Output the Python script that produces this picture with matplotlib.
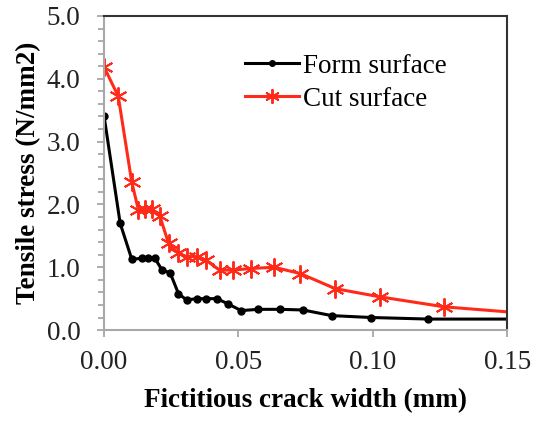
import numpy as np
import matplotlib.pyplot as plt
from matplotlib.ticker import MultipleLocator, FormatStrFormatter

plt.rcParams['font.family'] = ['Liberation Serif', 'DejaVu Serif']

# crack width (mm) and tensile stress (N/mm2)
form_w = [0.0, 0.006, 0.0103, 0.014, 0.0165, 0.019, 0.0215, 0.0246, 0.0277, 0.0307,
          0.0345, 0.038, 0.042, 0.046, 0.051, 0.0574, 0.0655, 0.074, 0.0847, 0.0994,
          0.1207, 0.15]
form_s = [3.41, 1.70, 1.13, 1.14, 1.14, 1.14, 0.96, 0.91, 0.58, 0.48,
          0.50, 0.50, 0.50, 0.42, 0.31, 0.33, 0.33, 0.32, 0.23, 0.20,
          0.175, 0.175]

cut_w = [0.0, 0.0053, 0.0103, 0.0128, 0.0153, 0.0177, 0.0208, 0.024, 0.0277, 0.0307,
         0.0345, 0.038, 0.043, 0.048, 0.0545, 0.0633, 0.073, 0.086, 0.1025, 0.1265,
         0.15]
cut_s = [4.19, 3.72, 2.36, 1.91, 1.92, 1.92, 1.81, 1.38, 1.22, 1.17,
         1.17, 1.11, 0.955, 0.955, 0.98, 1.0, 0.90, 0.66, 0.53, 0.37,
         0.29]

fs = 19.5

fig = plt.figure(figsize=(5.39, 4.21), dpi=100)
ax = fig.add_axes([0.193, 0.216, 0.748, 0.746])

ax.plot(form_w, form_s, color='black', lw=2.2, marker='o', ms=5,
        markevery=list(range(len(form_w) - 1)), label='Form surface')
ax.plot(cut_w, cut_s, color='#ff2a1a', lw=2.2, marker=(6, 2, 0), ms=13, mew=1.4,
        markevery=list(range(len(cut_w) - 1)), label='Cut surface')

ax.set_xlim(0, 0.15)
ax.set_ylim(0, 5.0)
ax.xaxis.set_major_locator(MultipleLocator(0.05))
ax.xaxis.set_major_formatter(FormatStrFormatter('%.2f'))
ax.yaxis.set_major_locator(MultipleLocator(1.0))
ax.yaxis.set_minor_locator(MultipleLocator(0.2))
ax.yaxis.set_major_formatter(FormatStrFormatter('%.1f'))

ax.tick_params(axis='both', which='both', direction='out', colors='#a0a0a0',
               labelcolor='#222222', labelsize=fs, width=1.2)
ax.tick_params(axis='x', length=5, pad=9)
ax.tick_params(axis='y', which='major', length=5, pad=12)
ax.tick_params(axis='y', which='minor', length=4)

for side in ['left', 'bottom']:
    ax.spines[side].set_color('#a8a8a8')
    ax.spines[side].set_linewidth(1.5)
for side in ['top', 'right']:
    ax.spines[side].set_color('#333333')
    ax.spines[side].set_linewidth(1.5)

ax.set_xlabel('Fictitious crack width (mm)', fontsize=fs, fontweight='bold', labelpad=10)
ax.set_ylabel('Tensile stress (N/mm2)', fontsize=fs, fontweight='bold', labelpad=4)

leg = ax.legend(loc='upper left', bbox_to_anchor=(0.323, 0.915), frameon=False,
                fontsize=fs, handlelength=2.0, handletextpad=0.15, labelspacing=0.3,
                borderaxespad=0)
for h in leg.legend_handles:
    h.set_markersize(h.get_markersize() * 0.8)

fig.savefig('out.png', dpi=100)
